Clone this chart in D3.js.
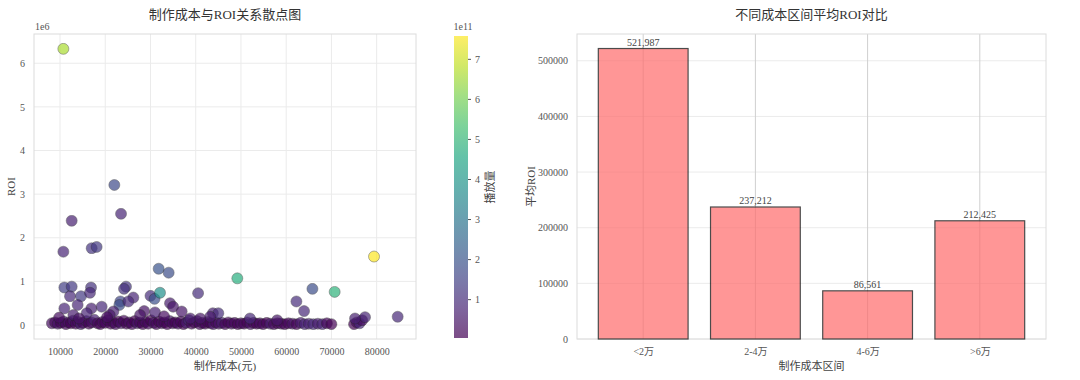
<!DOCTYPE html>
<html>
<head>
<meta charset="utf-8">
<script src="https://cdn.jsdelivr.net/npm/d3@7"></script>
<style>
  body { margin: 0; background: #fff; }
  text { font-family: "Liberation Serif", "Noto Sans CJK SC", serif; }
</style>
</head>
<body>
<div id="chart"></div>
<script>
// scatter: cost (yuan), ROI, plays (1e11 units)
const costValues = [
    8200, 8900, 9500, 10200, 10800, 11300, 11900, 12400, 12900, 13500, 14000, 14600, 15100, 15800, 16400, 17000,
    17600, 18300, 18900, 19400, 20000, 20600, 21200, 21800, 22300, 22900, 23500, 24100, 24700, 25300, 25900, 26500,
    27100, 27700, 28300, 28900, 29500, 30100, 30700, 31300, 31900, 32500, 33100, 33700, 34300, 34900, 35500, 36100,
    36700, 37300, 37900, 38500, 39100, 39700, 40300, 40900, 41500, 42100, 42700, 43300, 43900, 44500, 45100, 45800,
    46500, 47200, 47900, 48600, 49300, 50000, 50700, 51400, 52100, 52800, 53500, 54200, 54900, 55700, 56500, 57300,
    58100, 58900, 59700, 60500, 61400, 62300, 63200, 64100, 65000, 66000, 67000, 68000, 69000, 70000, 75000, 75600,
    76200, 76800,
    10960, 12580, 16860, 24590, 24150, 12210, 14640, 16630, 10960, 13900, 16930, 19210, 23340, 23120, 26210, 25100,
    30000, 30900, 34320, 35000, 28600, 31000, 36900, 43800, 45000, 43200, 21800, 21000, 27700, 12950, 15900, 38800,
    41000, 52000, 58000, 20400, 33000, 14200, 9800,
    10740, 22010, 23490, 12580, 10740, 17000, 18100, 79420, 31810, 34020, 49200, 65800, 70720, 40530, 32110, 62260,
    63950, 84650, 77430, 75220
];
const roiValues = [
    40000, 60000, 30000, 50000, 80000, 20000, 60000, 40000, 100000, 30000, 70000, 20000, 50000, 90000, 30000, 60000,
    120000, 40000, 20000, 70000, 50000, 110000, 30000, 60000, 20000, 80000, 40000, 100000, 30000, 60000, 20000, 90000,
    40000, 60000, 20000, 70000, 30000, 110000, 50000, 20000, 80000, 40000, 60000, 20000, 90000, 40000, 60000, 30000,
    80000, 20000, 50000, 110000, 30000, 60000, 90000, 20000, 50000, 30000, 70000, 40000, 20000, 60000, 30000, 50000,
    20000, 60000, 30000, 50000, 20000, 40000, 30000, 60000, 20000, 50000, 30000, 40000, 20000, 50000, 30000, 20000,
    40000, 30000, 20000, 40000, 30000, 20000, 50000, 20000, 30000, 20000, 30000, 20000, 40000, 20000, 20000, 60000,
    40000, 110000,
    860000, 880000, 860000, 880000, 830000, 660000, 660000, 740000, 380000, 460000, 380000, 420000, 540000, 460000, 630000, 540000,
    670000, 600000, 500000, 420000, 320000, 290000, 310000, 270000, 270000, 190000, 310000, 230000, 230000, 230000, 270000, 150000,
    150000, 150000, 110000, 180000, 200000, 150000, 170000,
    6330000, 3210000, 2550000, 2390000, 1680000, 1760000, 1790000, 1570000, 1290000, 1200000, 1070000, 830000, 760000, 730000, 740000, 540000,
    320000, 190000, 180000, 150000
];
const playValues = [
    0.3, 0.2, 0.4, 0.1, 0.6, 0.2, 0.3, 0.1, 0.5, 0.2, 0.3, 0.6, 0.2, 0.4, 0.1, 0.3,
    0.7, 0.2, 0.1, 0.3, 0.2, 0.5, 0.1, 0.2, 0.3, 0.1, 0.4, 0.2, 0.1, 0.3, 0.2, 0.03,
    0.5, 0.2, 0.1, 0.3, 0.2, 0.1, 0.4, 0.2, 0.1, 0.3, 0.2, 0.1, 0.5, 0.2, 0.1, 0.3,
    0.2, 0.1, 0.6, 0.9, 0.2, 0.1, 0.4, 0.2, 0.3, 0.1, 0.2, 0.1, 0.5, 0.2, 0.4, 0.6,
    0.2, 0.1, 0.3, 0.2, 0.1, 0.3, 0.2, 0.1, 0.4, 0.2, 0.1, 0.3, 0.2, 0.1, 0.6, 0.2,
    0.1, 0.3, 0.1, 0.2, 0.4, 0.1, 0.6, 0.8, 0.7, 0.9, 0.6, 0.8, 0.2, 0.1, 0.1, 0.2,
    0.9, 0.3,
    1.4, 1.3, 1.1, 1.2, 1.1, 0.9, 1.3, 0.9, 0.8, 0.8, 0.7, 0.9, 1.6, 1.8, 0.8, 0.9,
    1.0, 1.9, 0.6, 0.5, 0.4, 0.7, 0.5, 0.7, 1.0, 0.6, 0.7, 0.5, 0.4, 0.6, 0.8, 0.6,
    0.5, 0.9, 0.5, 0.3, 0.3, 0.4, 0.3,
    6.6, 1.7, 0.8, 0.7, 0.8, 1.2, 1.3, 7.57, 2.0, 1.8, 4.8, 1.8, 4.9, 1.0, 3.8, 1.0,
    0.9, 0.9, 0.8, 0.7
];

// bar chart
const bins = ['<2万', '2-4万', '4-6万', '>6万'];
const avgRoi = [521987, 237212, 86561, 212425];

const xTicks = [10000, 20000, 30000, 40000, 50000, 60000, 70000, 80000];
const yTicks = [0, 1, 2, 3, 4, 5, 6];
const cbTicks = [1, 2, 3, 4, 5, 6, 7];
const barTicks = [0, 100000, 200000, 300000, 400000, 500000];

const points = costValues.map((c, i) => ({ cost: c, roi: roiValues[i], plays: playValues[i] }));

const svg = d3.select('#chart').append('svg')
    .attr('width', 1080)
    .attr('height', 380);

const gridColor = '#ebebeb';
const frameColor = '#dcdcdc';
const tickColor = '#555';

// ---------- left: scatter ----------
const p1 = { left: 34, right: 416, top: 34, bottom: 339 };

const x = d3.scaleLinear().domain([4250, 88700]).range([p1.left, p1.right]);
const y = d3.scaleLinear().domain([-0.32, 6.67]).range([p1.bottom, p1.top]);
const color = d3.scaleSequential(d3.interpolateViridis).domain(d3.extent(playValues));

svg.append('g').selectAll('line.vg')
    .data(xTicks).enter().append('line')
    .attr('x1', d => x(d)).attr('x2', d => x(d))
    .attr('y1', p1.top).attr('y2', p1.bottom)
    .attr('stroke', gridColor);
svg.append('g').selectAll('line.hg')
    .data(yTicks).enter().append('line')
    .attr('y1', d => y(d)).attr('y2', d => y(d))
    .attr('x1', p1.left).attr('x2', p1.right)
    .attr('stroke', gridColor);

svg.append('rect')
    .attr('x', p1.left).attr('y', p1.top)
    .attr('width', p1.right - p1.left).attr('height', p1.bottom - p1.top)
    .attr('fill', 'none').attr('stroke', frameColor);

svg.append('g').selectAll('circle')
    .data(points).enter().append('circle')
    .attr('cx', d => x(d.cost))
    .attr('cy', d => y(d.roi / 1e6))
    .attr('r', 5.5)
    .attr('fill', d => color(d.plays))
    .attr('stroke', '#222')
    .attr('stroke-width', 0.5)
    .attr('opacity', 0.7);

const xAxis = svg.append('g')
    .attr('transform', `translate(0,${p1.bottom + 6})`)
    .call(d3.axisBottom(x).tickValues(xTicks).tickSize(0).tickPadding(3).tickFormat(d3.format('d')));
const yAxis = svg.append('g')
    .attr('transform', `translate(${p1.left - 6},0)`)
    .call(d3.axisLeft(y).tickValues(yTicks).tickSize(0).tickPadding(3).tickFormat(d3.format('d')));
[xAxis, yAxis].forEach(a => {
    a.select('.domain').remove();
    a.selectAll('text').attr('fill', tickColor).style('font-size', '10px');
});

svg.append('text').attr('x', p1.left + 1).attr('y', 30)
    .attr('fill', tickColor).style('font-size', '10px').text('1e6');

svg.append('text')
    .attr('x', (p1.left + p1.right) / 2).attr('y', 370)
    .attr('text-anchor', 'middle').attr('fill', '#444').style('font-size', '11px')
    .text('制作成本(元)');
svg.append('text')
    .attr('transform', `translate(15,${(p1.top + p1.bottom) / 2}) rotate(-90)`)
    .attr('text-anchor', 'middle').attr('fill', '#444').style('font-size', '11px')
    .text('ROI');
svg.append('text')
    .attr('x', (p1.left + p1.right) / 2).attr('y', 19)
    .attr('text-anchor', 'middle').attr('fill', '#333').style('font-size', '13px')
    .text('制作成本与ROI关系散点图');

// colorbar
const cb = { left: 454, right: 468, top: 36, bottom: 338 };
const cy = d3.scaleLinear().domain(color.domain()).range([cb.bottom, cb.top]);

const grad = svg.append('defs').append('linearGradient')
    .attr('id', 'viridis').attr('x1', 0).attr('x2', 0).attr('y1', 1).attr('y2', 0);
d3.range(0, 1.01, 0.1).forEach(t => {
    grad.append('stop').attr('offset', t).attr('stop-color', d3.interpolateViridis(t));
});
svg.append('rect')
    .attr('x', cb.left).attr('y', cb.top)
    .attr('width', cb.right - cb.left).attr('height', cb.bottom - cb.top)
    .attr('fill', 'url(#viridis)').attr('opacity', 0.7);

const cbAxis = svg.append('g')
    .attr('transform', `translate(${cb.right},0)`)
    .call(d3.axisRight(cy).tickValues(cbTicks).tickSize(3).tickPadding(4).tickFormat(d3.format('d')));
cbAxis.select('.domain').remove();
cbAxis.selectAll('line').attr('stroke', tickColor);
cbAxis.selectAll('text').attr('fill', tickColor).style('font-size', '10px');

svg.append('text').attr('x', (cb.left + cb.right) / 2 + 2).attr('y', 30)
    .attr('text-anchor', 'middle').attr('fill', tickColor).style('font-size', '10px').text('1e11');
svg.append('text')
    .attr('transform', `translate(494,${(cb.top + cb.bottom) / 2}) rotate(-90)`)
    .attr('text-anchor', 'middle').attr('fill', '#444').style('font-size', '11px')
    .text('播放量');

// ---------- right: bars ----------
const p2 = { left: 577, right: 1046, top: 34, bottom: 339 };

const bx = d3.scaleLinear().domain([-0.59, bins.length - 1 + 0.59]).range([p2.left, p2.right]);
const by = d3.scaleLinear().domain([0, d3.max(avgRoi) * 1.05]).range([p2.bottom, p2.top]);
const bw = bx(0.4) - bx(-0.4);

svg.append('g').selectAll('line')
    .data(barTicks).enter().append('line')
    .attr('y1', d => by(d)).attr('y2', d => by(d))
    .attr('x1', p2.left).attr('x2', p2.right)
    .attr('stroke', gridColor);
svg.append('g').selectAll('line')
    .data(bins).enter().append('line')
    .attr('x1', (d, i) => bx(i)).attr('x2', (d, i) => bx(i))
    .attr('y1', p2.top).attr('y2', p2.bottom)
    .attr('stroke', '#cfcfcf');

svg.append('rect')
    .attr('x', p2.left).attr('y', p2.top)
    .attr('width', p2.right - p2.left).attr('height', p2.bottom - p2.top)
    .attr('fill', 'none').attr('stroke', frameColor);

svg.append('g').selectAll('rect')
    .data(avgRoi).enter().append('rect')
    .attr('x', (d, i) => bx(i) - bw / 2)
    .attr('y', d => by(d))
    .attr('width', bw)
    .attr('height', d => by(0) - by(d))
    .attr('fill', '#ff6b6b')
    .attr('stroke', '#000')
    .attr('stroke-width', 1.2)
    .attr('opacity', 0.7);

svg.append('g').selectAll('text')
    .data(avgRoi).enter().append('text')
    .attr('x', (d, i) => bx(i))
    .attr('y', d => by(d) - 3)
    .attr('text-anchor', 'middle')
    .attr('fill', '#444')
    .style('font-size', '10px')
    .text(d => d3.format(',')(d));

const bxAxis = svg.append('g')
    .attr('transform', `translate(0,${p2.bottom + 6})`)
    .call(d3.axisBottom(bx).tickValues(d3.range(bins.length)).tickSize(0).tickPadding(3).tickFormat(i => bins[i]));
const byAxis = svg.append('g')
    .attr('transform', `translate(${p2.left - 6},0)`)
    .call(d3.axisLeft(by).tickValues(barTicks).tickSize(0).tickPadding(3).tickFormat(d3.format('d')));
[bxAxis, byAxis].forEach(a => {
    a.select('.domain').remove();
    a.selectAll('text').attr('fill', tickColor).style('font-size', '10px');
});

svg.append('text')
    .attr('x', (p2.left + p2.right) / 2).attr('y', 370)
    .attr('text-anchor', 'middle').attr('fill', '#444').style('font-size', '11px')
    .text('制作成本区间');
svg.append('text')
    .attr('transform', `translate(535,${(p2.top + p2.bottom) / 2}) rotate(-90)`)
    .attr('text-anchor', 'middle').attr('fill', '#444').style('font-size', '11px')
    .text('平均ROI');
svg.append('text')
    .attr('x', (p2.left + p2.right) / 2).attr('y', 19)
    .attr('text-anchor', 'middle').attr('fill', '#333').style('font-size', '13px')
    .text('不同成本区间平均ROI对比');
</script>
</body>
</html>
